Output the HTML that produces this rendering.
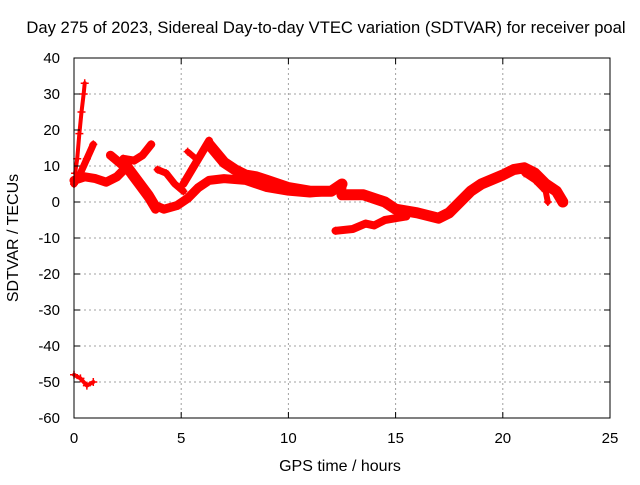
<!DOCTYPE html>
<html><head><meta charset="utf-8"><style>
body{margin:0;background:#fff}
svg text{font-family:"Liberation Sans",sans-serif;font-size:15px;fill:#000}
</style></head><body>
<svg width="640" height="480">
<rect width="640" height="480" fill="#fff"/>
<g id="grid"></g>
<g id="series"></g>
<rect x="74" y="58" width="536" height="360" fill="none" stroke="#000"/>
<g id="ticks"></g>
<text x="326" y="33" text-anchor="middle" style="font-size:16.6px">Day 275 of 2023, Sidereal Day-to-day VTEC variation (SDTVAR) for receiver poal</text>
<text x="340" y="471" text-anchor="middle" style="font-size:16px">GPS time / hours</text>
<text x="18" y="238" text-anchor="middle" style="font-size:16px" transform="rotate(-90 18 238)">SDTVAR / TECUs</text>
</svg>
<script>
const xTicks=[0,5,10,15,20,25];
const yTicks=[40,30,20,10,0,-10,-20,-30,-40,-50,-60];
const spikeH=[0.05,0.15,0.25,0.35,0.45,0.5];
const spikeV=[8,12,19,25,30,33];
const riseH=[0,0.3,0.6,0.9];
const riseV=[5,8,12,16];
const mainH=[0,0.5,1,1.5,2,2.5,3,3.5,3.8,4.2,4.8,5.3,5.8,6.3,7,8,9,10,11,12,12.5];
const mainV=[6,7,6.5,5.5,7,10,6,2,-1,-2,-1,1,4,6,6.5,6,4,3,2.5,3,4];
const tailH=[12.5,13.5,14.5,15,16,17,17.5,18,18.5,19,20,20.5,21,21.5,22,22.5,22.8];
const tailV=[2,2,0,-2,-3,-4.5,-3,0,3,5,7.5,9,9.5,8,5,3,0];
const vH=[1.7,2.5,3,3.5,3.8];
const vV=[13,9,5,1,-2];
const upH=[2.3,2.8,3.2,3.6];
const upV=[12,11.5,13,16];
const climbH=[5.1,5.5,6,6.3];
const climbV=[5,9,14,17];
const descH=[6.3,7,7.5,8,8.5,9,10,11,12,12.5];
const descV=[16,11,9,7.5,7,6,4,3,3,5];
const humpH=[3.9,4.3,4.7,5.1];
const humpV=[9,8,5,3];
const lowH=[12.2,13,13.6,14,14.5,15,15.5];
const lowV=[-8,-7.5,-6,-6.5,-5,-4.5,-4];
const branchH=[21,21.5,22,22.1];
const branchV=[8,6,3,0];
const botH=[0,0.3,0.6,0.9];
const botV=[-48,-49,-51,-50];
const sideH=[5.3,5.7];
const sideV=[14,12];
const tracks=[[spikeH,spikeV,4],[riseH,riseV,7],[mainH,mainV,9],[tailH,tailV,11],[vH,vV,9],[upH,upV,8],[climbH,climbV,8],[descH,descV,11],[humpH,humpV,7],[lowH,lowV,8],[branchH,branchV,6],[botH,botV,4],[sideH,sideV,6]];
const X=h=>74+h*(536/25), Y=v=>418-(v+60)*3.6;
const ns="http://www.w3.org/2000/svg";
const grid=document.getElementById('grid'),ticks=document.getElementById('ticks'),ser=document.getElementById('series');
function mk(t,a,p){const e=document.createElementNS(ns,t);for(const k in a)e.setAttribute(k,a[k]);p.appendChild(e);return e;}
xTicks.forEach(t=>{const x=X(t);
 if(t>0&&t<25){const l=mk('line',{x1:x,x2:x,y1:58,y2:418,stroke:'#a0a0a0','stroke-dasharray':'2,3'},grid);
 
 }
 mk('line',{x1:x,x2:x,y1:418,y2:412,stroke:'#000'},ticks);mk('line',{x1:x,x2:x,y1:58,y2:64,stroke:'#000'},ticks);
 const tx=mk('text',{x:x,y:443,'text-anchor':'middle'},ticks);tx.textContent=t;
 
 });
yTicks.forEach(t=>{const y=Y(t);
 if(t>-60&&t<40){const l=mk('line',{x1:74,x2:610,y1:y,y2:y,stroke:'#a0a0a0','stroke-dasharray':'2,3'},grid);
 
 }
 mk('line',{x1:74,x2:80,y1:y,y2:y,stroke:'#000'},ticks);mk('line',{x1:610,x2:604,y1:y,y2:y,stroke:'#000'},ticks);
 const tx=mk('text',{x:60,y:y+5,'text-anchor':'end'},ticks);tx.textContent=t;
 
 });
tracks.forEach(([hs,vs,w])=>{
 const pl=mk('polyline',{points:hs.map((h,i)=>X(h)+','+Y(vs[i])).join(' '),fill:'none',stroke:'#f00','stroke-width':w,'stroke-linejoin':'round','stroke-linecap':'round'},ser);
 
 
 hs.forEach((h,i)=>{const x=X(h),y=Y(vs[i]);
  const p=mk('path',{d:`M${x-4},${y}h8M${x},${y-4}v8`,stroke:'#f00','stroke-width':1.5},ser);
  
  });
});
</script>
</body></html>
